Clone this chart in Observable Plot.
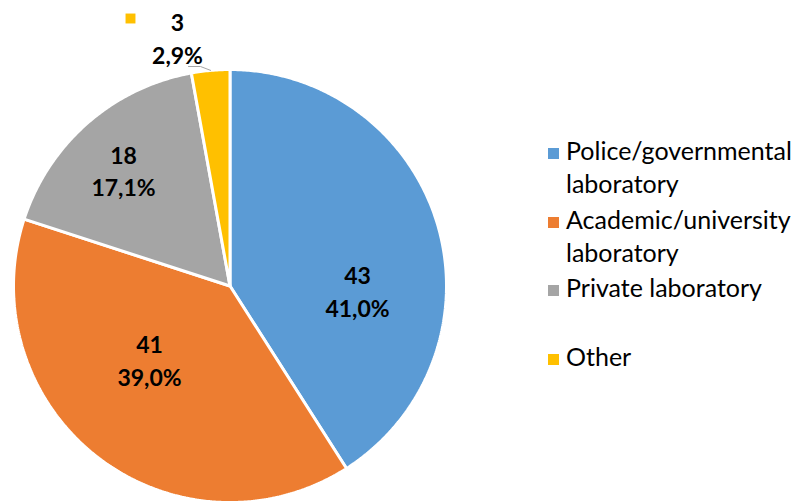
<!DOCTYPE html>
<html>
<head>
<meta charset="utf-8">
<script src="https://cdn.jsdelivr.net/npm/d3@7"></script>
<script src="https://cdn.jsdelivr.net/npm/@observablehq/plot@0.6"></script>
<style>
  html, body { margin: 0; padding: 0; background: #fff; }
  #wrap { position: relative; width: 798px; height: 502px; overflow: hidden; font-family: Lato, "Open Sans", sans-serif; }
  .lg-line { position: absolute; left: 566px; font-size: 25px; line-height: 33px; color: #000; white-space: nowrap; }
  .lg-key { position: absolute; left: 548px; width: 11px; height: 11px; }
</style>
</head>
<body>
<div id="wrap"></div>
<script>
// ---- data ----
const categories = ["Police/governmental laboratory", "Academic/university laboratory", "Private laboratory", "Other"];
const legendLines = [["Police/governmental", "laboratory"], ["Academic/university", "laboratory"], ["Private laboratory"], ["Other"]];
const counts = [43, 41, 18, 3];
const colors = ["#5B9BD5", "#ED7D31", "#A5A5A5", "#FFC000"];

// ---- layout (pixels) ----
const W = 798, H = 502, CX = 229.5, CY = 285.5, R = 216.5;
// label block centres, relative to the pie centre, in pixels
const labelOffsets = [[127.5, 4.25], [-80.5, 73], [-106.5, -116.5], [-52.5, -249]];
// legend: baseline of each entry's first line, and line spacing
const legendBaselines = [160, 228.5, 297, 365.5];
const legendLineGap = 33;

const total = d3.sum(counts);
const fmtPct = v => (v / total * 100).toFixed(1).replace(".", ",") + "%";

// slice polygons (unit radius, angle clockwise from 12 o'clock)
const slices = [];
const angles = [];
let start = 0;
counts.forEach((c, i) => {
  const a0 = start, a1 = start + c / total * 2 * Math.PI;
  angles.push([a0, a1]);
  slices.push({cat: categories[i], x: 0, y: 0});
  const n = Math.max(2, Math.ceil((a1 - a0) / (Math.PI / 360)));
  for (let k = 0; k <= n; k++) {
    const a = a0 + (a1 - a0) * k / n;
    slices.push({cat: categories[i], x: Math.sin(a), y: Math.cos(a)});
  }
  start = a1;
});

const labels = counts.map((c, i) => ({
  cat: categories[i],
  x: labelOffsets[i][0] / R,
  y: -labelOffsets[i][1] / R,
  text: c + "\n" + fmtPct(c)
}));

// leader line for the small slice
const midOther = (angles[3][0] + angles[3][1]) / 2;
const leader = [
  {x: Math.sin(midOther), y: Math.cos(midOther)},
  {x: (200 - CX) / R, y: (CY - 66) / R},
  {x: (188 - CX) / R, y: (CY - 66) / R}
];

const plot = Plot.plot({
  width: W, height: H,
  margin: 0,
  x: {domain: [-CX / R, (W - CX) / R], range: [0, W], axis: null},
  y: {domain: [-(H - CY) / R, CY / R], range: [H, 0], axis: null},
  color: {domain: categories, range: colors},
  style: {background: "transparent"},
  marks: [
    Plot.line(slices, {x: "x", y: "y", z: "cat", fill: "cat", stroke: "white", strokeWidth: 3, curve: "linear-closed", strokeLinejoin: "miter"}),
    Plot.line(leader, {x: "x", y: "y", stroke: "#A6A6A6", strokeWidth: 1}),
    Plot.text(labels, {x: "x", y: "y", text: "text", fontSize: 23, fontWeight: "bold", fill: "black", lineHeight: 1.41, fontFamily: "Lato, 'Open Sans', sans-serif"}),
    Plot.dot(labels.slice(3), {x: "x", y: "y", dx: -47, dy: -18.5, symbol: "square", r: 5.6, fill: "cat", stroke: null})
  ]
});

const wrap = document.getElementById("wrap");
wrap.appendChild(plot);

legendLines.forEach((lines, i) => {
  const b = legendBaselines[i];
  const key = document.createElement("div");
  key.className = "lg-key";
  key.style.top = (b - 12) + "px";
  key.style.background = colors[i];
  wrap.appendChild(key);
  lines.forEach((ln, j) => {
    const d = document.createElement("div");
    d.className = "lg-line";
    d.style.top = (b + j * legendLineGap - 26) + "px";
    d.textContent = ln;
    wrap.appendChild(d);
  });
});
</script>
</body>
</html>
